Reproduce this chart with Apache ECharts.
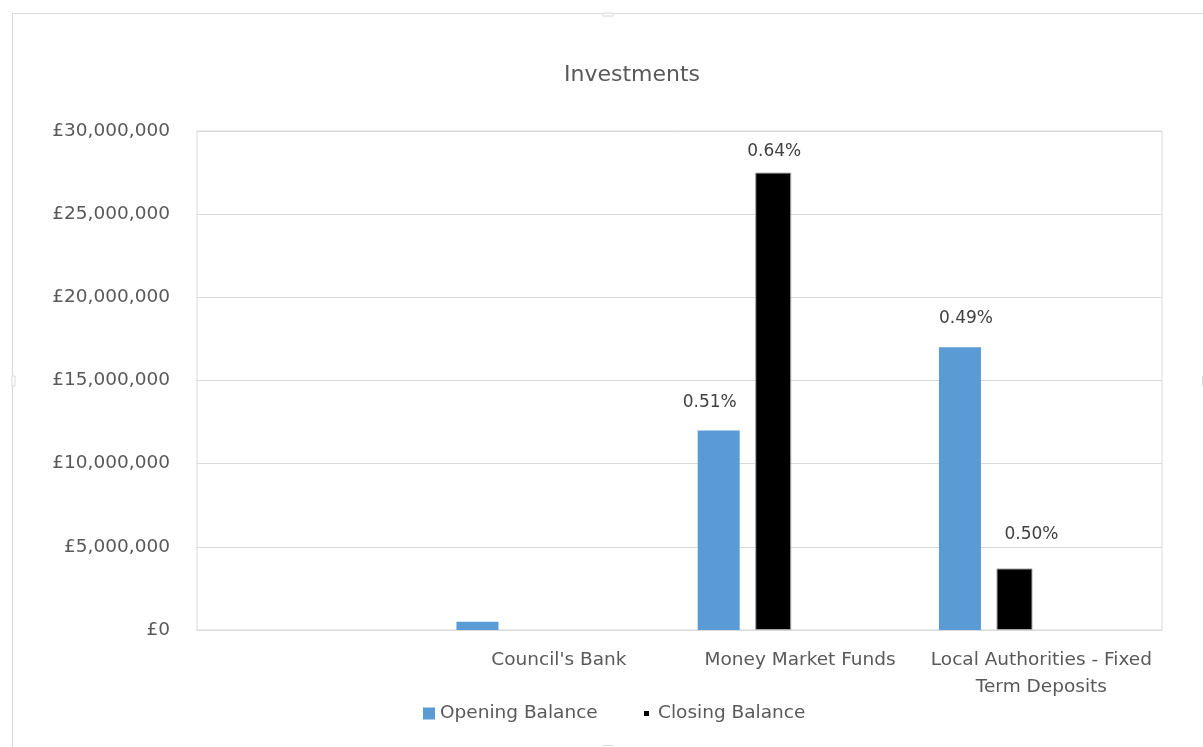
<!DOCTYPE html>
<html>
<head>
<meta charset="utf-8">
<script src="https://cdn.jsdelivr.net/npm/echarts@6/dist/echarts.min.js"></script>
<style>
html,body{margin:0;padding:0;background:#fff;}
#chart{width:1203px;height:747px;}
</style>
</head>
<body>
<div id="chart"></div>
<script>
var titleText = 'Investments';
var categories = ['', "Council's Bank", 'Money Market Funds', 'Local Authorities - Fixed\nTerm Deposits'];
var openingBalance = [null, 500000, 12000000, 17000000];
var closingBalance = [null, null, 27500000, 3700000];
var openingRates = [null, null, '0.51%', '0.49%'];
var closingRates = [null, null, '0.64%', '0.50%'];
var yTicks = [0, 5000000, 10000000, 15000000, 20000000, 25000000, 30000000];

var FONT = 'DejaVu Sans';
var TXT = '#595959';

// label offsets (layout only)
var openOffsets = [null, null, [-9, -14], [6, -15]];
var closeOffsets = [null, null, [1, -8], [17, -20]];

function fmt(v) {
  return '£' + String(Math.round(v)).replace(/\B(?=(\d{3})+(?!\d))/g, ',');
}

function buildData(values, rates, offsets) {
  return values.map(function (v, i) {
    var item = { value: v };
    if (rates[i]) {
      item.label = { show: true, formatter: rates[i], offset: offsets[i] };
    }
    return item;
  });
}

var chart = echarts.init(document.getElementById('chart'), null, { renderer: 'canvas' });
var option = {
  animation: false,
  backgroundColor: '#fff',
  title: {
    text: titleText,
    left: 559,
    top: 59,
    textStyle: { fontFamily: FONT, fontSize: 22, fontWeight: 'normal', color: TXT }
  },
  grid: {
    left: 197, right: 41, top: 131, bottom: 117,
    show: true, borderColor: '#d9d9d9', borderWidth: 1, containLabel: false
  },
  legend: [{
    data: ['Opening Balance'],
    left: 418, top: 699,
    itemWidth: 12, itemHeight: 12,
    icon: 'rect',
    itemStyle: { borderWidth: 0 },
    textStyle: { fontFamily: FONT, fontSize: 18.5, color: TXT }
  }, {
    data: ['Closing Balance'],
    left: 639, top: 699,
    itemWidth: 5, itemHeight: 5,
    icon: 'rect',
    itemStyle: { borderWidth: 0, color: '#000000' },
    textStyle: { fontFamily: FONT, fontSize: 18.5, color: TXT, padding: [0, 0, 0, 4] }
  }],
  xAxis: {
    type: 'category',
    data: categories,
    axisLine: { lineStyle: { color: '#d9d9d9' } },
    axisTick: { show: false },
    axisLabel: {
      fontFamily: FONT, fontSize: 18.5, color: TXT, margin: 17, lineHeight: 27,
      interval: 0
    }
  },
  yAxis: {
    type: 'value',
    min: yTicks[0], max: yTicks[yTicks.length - 1], interval: yTicks[1] - yTicks[0],
    axisLine: { show: false },
    axisTick: { show: false },
    splitLine: { lineStyle: { color: '#d9d9d9' } },
    axisLabel: {
      fontFamily: FONT, fontSize: 18.5, color: TXT, margin: 27,
      formatter: fmt
    }
  },
  series: [{
    name: 'Opening Balance',
    type: 'bar',
    barWidth: 42,
    barGap: '37%',
    itemStyle: { color: '#5b9bd5' },
    label: { show: false, position: 'top', fontFamily: FONT, fontSize: 17, color: '#404040' },
    data: buildData(openingBalance, openingRates, openOffsets)
  }, {
    name: 'Closing Balance',
    type: 'bar',
    barWidth: 36,
    barGap: '37%',
    itemStyle: { color: '#000000', borderColor: '#a6a6a6', borderWidth: 1 },
    label: { show: false, position: 'top', fontFamily: FONT, fontSize: 17, color: '#404040' },
    data: buildData(closingBalance, closingRates, closeOffsets)
  }, {
    name: '_pad',
    type: 'bar',
    barWidth: 98,
    barGap: '37%',
    silent: true,
    itemStyle: { color: 'transparent' },
    data: [null, null, null, null]
  }],
  graphic: [
    { type: 'polyline', silent: true, shape: { points: [[12.5, 760], [12.5, 13.5], [1220, 13.5]] },
      style: { stroke: '#d9d9d9', lineWidth: 1, fill: null } },
    { type: 'rect', silent: true, shape: { x: 603, y: 13, width: 10, height: 3 },
      style: { fill: '#fff', stroke: '#d9d9d9', lineWidth: 1 } },
    { type: 'rect', silent: true, shape: { x: 12, y: 376, width: 3, height: 10 },
      style: { fill: '#fff', stroke: '#d9d9d9', lineWidth: 1 } },
    { type: 'line', silent: true, shape: { x1: 603, y1: 745.5, x2: 613, y2: 745.5 },
      style: { stroke: '#d9d9d9', lineWidth: 1 } },
    { type: 'line', silent: true, shape: { x1: 1202.5, y1: 376, x2: 1202.5, y2: 386 },
      style: { stroke: '#d9d9d9', lineWidth: 1 } }
  ]
};
chart.setOption(option);
</script>
</body>
</html>
